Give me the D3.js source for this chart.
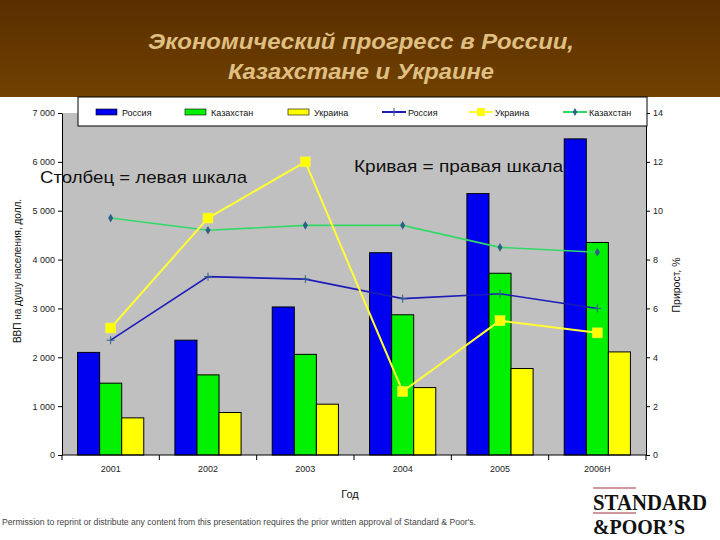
<!DOCTYPE html>
<html>
<head>
<meta charset="utf-8">
<script src="https://cdn.jsdelivr.net/npm/d3@7"></script>
<style>
  body { margin: 0; background: #fff; }
  svg { display: block; font-family: "Liberation Sans", Arial, sans-serif; }
</style>
</head>
<body>
<div id="chart"></div>
<script>
// data
const categories = ["2001", "2002", "2003", "2004", "2005", "2006Н"];
const gdpRussia = [2100, 2350, 3030, 4140, 5350, 6470];
const gdpKazakhstan = [1470, 1640, 2060, 2870, 3720, 4350];
const gdpUkraine = [760, 870, 1040, 1380, 1770, 2110];
const growthRussia = [4.7, 7.3, 7.2, 6.4, 6.6, 6.0];
const growthUkraine = [5.2, 9.7, 12.0, 2.6, 5.5, 5.0];
const growthKazakhstan = [9.7, 9.2, 9.4, 9.4, 8.5, 8.3];
const leftTicks = [0, 1000, 2000, 3000, 4000, 5000, 6000, 7000];
const rightTicks = [0, 2, 4, 6, 8, 10, 12, 14];

const width = 720;
const height = 540;
const plot = { left: 62, right: 646, top: 113, bottom: 455 };

const svg = d3.select("#chart").append("svg").attr("width", width).attr("height", height);

// header band
const defs = svg.append("defs");
const grad = defs.append("linearGradient").attr("id", "hdr").attr("x1", 0).attr("y1", 0).attr("x2", 0).attr("y2", 1);
grad.append("stop").attr("offset", "0%").attr("stop-color", "#5a2f00");
grad.append("stop").attr("offset", "100%").attr("stop-color", "#704100");
svg.append("rect").attr("x", 0).attr("y", 0).attr("width", width).attr("height", 97).attr("fill", "url(#hdr)");

const titleLines = [
  { text: "Экономический прогресс в России,", len: 426 },
  { text: "Казахстане и Украине", len: 266 },
];
svg.selectAll("text.title")
  .data(titleLines)
  .join("text")
  .attr("class", "title")
  .attr("x", 361)
  .attr("y", (d, i) => 49 + i * 30)
  .attr("text-anchor", "middle")
  .attr("font-size", 22)
  .attr("font-weight", "bold")
  .attr("font-style", "italic")
  .attr("fill", "#dfbf82")
  .attr("textLength", (d) => d.len)
  .attr("lengthAdjust", "spacingAndGlyphs")
  .text((d) => d.text);

// scales
const x = d3.scaleBand().domain(categories).range([plot.left, plot.right]).paddingInner(0.32).paddingOuter(0.16);
const series = ["ru", "kz", "ua"];
const xSub = d3.scaleBand().domain(series).range([0, x.bandwidth()]);
const yLeft = d3.scaleLinear().domain([0, 7000]).range([plot.bottom, plot.top]);
const yRight = d3.scaleLinear().domain([0, 14]).range([plot.bottom, plot.top]);

// plot background
svg.append("rect")
  .attr("x", plot.left)
  .attr("y", plot.top)
  .attr("width", plot.right - plot.left)
  .attr("height", plot.bottom - plot.top)
  .attr("fill", "#c0c0c0");

// bars
const barColors = { ru: "#0000f0", kz: "#00f000", ua: "#ffff00" };
const barData = { ru: gdpRussia, kz: gdpKazakhstan, ua: gdpUkraine };
const bars = svg.append("g");
series.forEach((s) => {
  bars.selectAll("rect." + s)
    .data(categories)
    .join("rect")
    .attr("class", s)
    .attr("x", (c) => x(c) + xSub(s))
    .attr("y", (c, i) => yLeft(barData[s][i]))
    .attr("width", xSub.bandwidth())
    .attr("height", (c, i) => plot.bottom - yLeft(barData[s][i]))
    .attr("fill", barColors[s])
    .attr("stroke", "#000")
    .attr("stroke-width", 1);
});

// axes
const fmt = (d) => d3.format(",")(d).replace(",", " ");
const leftAxis = svg.append("g")
  .attr("transform", `translate(${plot.left},0)`)
  .call(d3.axisLeft(yLeft).tickValues(leftTicks).tickFormat(fmt).tickSize(4).tickSizeOuter(0));
const rightAxis = svg.append("g")
  .attr("transform", `translate(${plot.right},0)`)
  .call(d3.axisRight(yRight).tickValues(rightTicks).tickSize(4).tickSizeOuter(0));
const bottomAxis = svg.append("g")
  .attr("transform", `translate(0,${plot.bottom})`)
  .call(d3.axisBottom(x).tickSize(0).tickPadding(11));
[leftAxis, rightAxis, bottomAxis].forEach((g) => {
  g.selectAll("text").attr("font-size", 9).attr("fill", "#222").attr("font-family", "Liberation Sans, Arial, sans-serif");
  g.selectAll("path, line").attr("stroke", "#000");
});
bottomAxis.select(".domain").attr("d", `M${plot.left},0H${plot.right}`);

// category separators on x axis
const bounds = categories.map((c) => x(c) - (x.step() * x.paddingInner()) / 2).concat([plot.right]);
bounds[0] = plot.left;
svg.append("g")
  .selectAll("line")
  .data(bounds)
  .join("line")
  .attr("x1", (d) => d)
  .attr("x2", (d) => d)
  .attr("y1", plot.bottom)
  .attr("y2", plot.bottom + 5)
  .attr("stroke", "#000");

// growth lines
const cx = (c) => x(c) + x.bandwidth() / 2;
const lines = [
  { data: growthKazakhstan, color: "#33d966", width: 1.6 },
  { data: growthRussia, color: "#1c1cb8", width: 1.6 },
  { data: growthUkraine, color: "#ffff33", width: 2 },
];
const lineGen = (vals) => d3.line().x((d, i) => cx(categories[i])).y((d) => yRight(d))(vals);
lines.forEach((l) => {
  svg.append("path").attr("d", lineGen(l.data)).attr("fill", "none").attr("stroke", l.color).attr("stroke-width", l.width);
});

// markers
svg.append("g")
  .selectAll("path")
  .data(growthKazakhstan)
  .join("path")
  .attr("d", d3.symbol(d3.symbolDiamond, 22))
  .attr("transform", (d, i) => `translate(${cx(categories[i])},${yRight(d)})`)
  .attr("fill", "#2f5f86");
svg.append("g")
  .selectAll("path")
  .data(growthRussia)
  .join("path")
  .attr("d", (d, i) => {
    const px = cx(categories[i]);
    const py = yRight(d);
    return `M${px - 4},${py}H${px + 4}M${px},${py - 4}V${py + 4}`;
  })
  .attr("stroke", "#2f5f86")
  .attr("stroke-width", 1);
svg.append("g")
  .selectAll("rect")
  .data(growthUkraine)
  .join("rect")
  .attr("x", (d, i) => cx(categories[i]) - 5)
  .attr("y", (d) => yRight(d) - 5)
  .attr("width", 10)
  .attr("height", 10)
  .attr("fill", "#ffff00")
  .attr("stroke", "#f0f060")
  .attr("stroke-width", 0.5);

// legend
const legend = svg.append("g");
legend.append("rect").attr("x", 78).attr("y", 97).attr("width", 569).attr("height", 29).attr("fill", "#fff").attr("stroke", "#000");
const legendItems = [
  { label: "Россия", type: "bar", color: barColors.ru, x: 96 },
  { label: "Казахстан", type: "bar", color: barColors.kz, x: 185 },
  { label: "Украина", type: "bar", color: barColors.ua, x: 288 },
  { label: "Россия", type: "line", color: "#1c1cb8", x: 382 },
  { label: "Украина", type: "line", color: "#ffff33", x: 469 },
  { label: "Казахстан", type: "line", color: "#33d966", x: 563 },
];
legendItems.forEach((it) => {
  if (it.type === "bar") {
    legend.append("rect").attr("x", it.x).attr("y", 109).attr("width", 21).attr("height", 6).attr("fill", it.color).attr("stroke", "#000").attr("stroke-width", 0.6);
  } else {
    legend.append("line").attr("x1", it.x).attr("x2", it.x + 24).attr("y1", 112).attr("y2", 112).attr("stroke", it.color).attr("stroke-width", 2);
    if (it.label === "Россия") {
      legend.append("path").attr("d", `M${it.x + 12},108V116`).attr("stroke", "#2f5f86");
    } else if (it.label === "Казахстан") {
      legend.append("path").attr("d", d3.symbol(d3.symbolDiamond, 18)).attr("transform", `translate(${it.x + 12},112)`).attr("fill", "#2f5f86");
    } else {
      legend.append("rect").attr("x", it.x + 8).attr("y", 108).attr("width", 8).attr("height", 8).attr("fill", "#ffff00");
    }
  }
  legend.append("text").attr("x", it.x + 26).attr("y", 115.5).attr("font-size", 9).attr("fill", "#111").text(it.label);
});

// annotations
svg.append("text").attr("x", 40).attr("y", 183).attr("font-size", 17).attr("fill", "#111")
  .attr("textLength", 207).attr("lengthAdjust", "spacingAndGlyphs").text("Столбец = левая шкала");
svg.append("text").attr("x", 354).attr("y", 172).attr("font-size", 17).attr("fill", "#111")
  .attr("textLength", 209).attr("lengthAdjust", "spacingAndGlyphs").text("Кривая = правая шкала");

// axis titles
svg.append("text")
  .attr("transform", "translate(21,271) rotate(-90)")
  .attr("text-anchor", "middle")
  .attr("font-size", 10)
  .attr("fill", "#111")
  .text("ВВП на душу населения, долл.");
svg.append("text")
  .attr("transform", "translate(680,285) rotate(-90)")
  .attr("text-anchor", "middle")
  .attr("font-size", 10.5)
  .attr("fill", "#111")
  .text("Прирост, %");
svg.append("text").attr("x", 350).attr("y", 498).attr("text-anchor", "middle").attr("font-size", 11).attr("fill", "#111").text("Год");

// footer
svg.append("text")
  .attr("x", 2)
  .attr("y", 525)
  .attr("font-size", 8.5)
  .attr("fill", "#444")
  .attr("textLength", 474)
  .attr("lengthAdjust", "spacingAndGlyphs")
  .text("Permission to reprint or distribute any content from this presentation requires the prior written approval of Standard & Poor's.");

// S&P logo
const logo = svg.append("g").attr("font-family", "Liberation Serif, Times New Roman, serif").attr("fill", "#111");
logo.append("line").attr("x1", 593).attr("x2", 636).attr("y1", 488).attr("y2", 488).attr("stroke", "#a03040").attr("stroke-width", 1);
logo.append("line").attr("x1", 593).attr("x2", 636).attr("y1", 513).attr("y2", 513).attr("stroke", "#a03040").attr("stroke-width", 1);
logo.append("text").attr("x", 593).attr("y", 510).attr("font-size", 23).attr("font-weight", "bold").attr("textLength", 114).attr("lengthAdjust", "spacingAndGlyphs").text("STANDARD");
logo.append("text").attr("x", 593).attr("y", 534).attr("font-size", 22).attr("font-weight", "bold").attr("textLength", 92).attr("lengthAdjust", "spacingAndGlyphs").text("&POOR’S");
</script>
</body>
</html>
